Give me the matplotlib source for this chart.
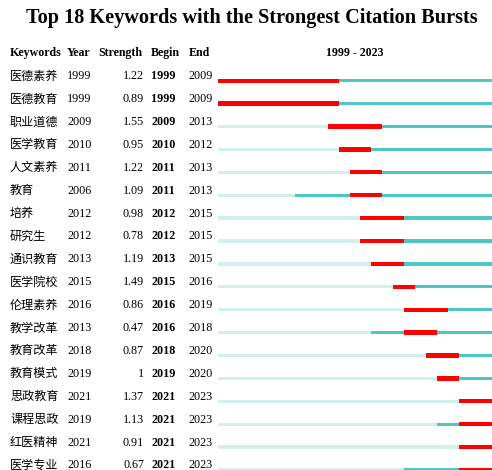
import matplotlib.pyplot as plt
import matplotlib.transforms as mtransforms

keywords = ['医德素养', '医德教育', '职业道德', '医学教育', '人文素养', '教育', '培养', '研究生',
            '通识教育', '医学院校', '伦理素养', '教学改革', '教育改革', '教育模式', '思政教育',
            '课程思政', '红医精神', '医学专业']
year = [1999, 1999, 2009, 2010, 2011, 2006, 2012, 2012, 2013, 2015, 2016, 2013, 2018, 2019,
        2021, 2019, 2021, 2016]
strength = ['1.22', '0.89', '1.55', '0.95', '1.22', '1.09', '0.98', '0.78', '1.19', '1.49',
            '0.86', '0.47', '0.87', '1', '1.37', '1.13', '0.91', '0.67']
begin = [1999, 1999, 2009, 2010, 2011, 2011, 2012, 2012, 2013, 2015, 2016, 2016, 2018, 2019,
         2021, 2021, 2021, 2021]
end = [2009, 2009, 2013, 2012, 2013, 2013, 2015, 2015, 2015, 2016, 2019, 2018, 2020, 2020,
       2023, 2023, 2023, 2023]
first_year, last_year = 1999, 2023

W, H = 492, 470
fig = plt.figure(figsize=(W / 100, H / 100), dpi=100)
fig.patch.set_facecolor('white')

row0, step = 80.7, 22.9
ax = fig.add_axes([218 / W, 0, (W - 218) / W, 1])
ax.set_xlim(first_year, last_year + 1)
ax.set_ylim((H - row0) / step, -row0 / step)
ax.axis('off')

rows = list(range(len(keywords)))
light = '#d4eeee'
cyan = '#4dc6c6'
red = '#ff0000'
ax.barh(rows, [y - first_year for y in year], left=first_year, height=0.14, color=light)
ax.barh(rows, [last_year + 1 - y for y in year], left=year, height=0.14, color=cyan)
ax.barh(rows, [e + 1 - b for b, e in zip(begin, end)], left=begin, height=0.19, color=red)

serif = ['Liberation Serif', 'Noto Sans CJK SC']
cjk = ['Noto Sans CJK SC', 'Liberation Serif']
tr = mtransforms.blended_transform_factory(fig.transFigure, ax.transData)
fs = 8.7
dy = -0.2  # text sits a bit above its bar

for i in rows:
    ty = i + dy
    ax.text(10 / W, ty, keywords[i], transform=tr, family=cjk, fontsize=fs, va='center')
    ax.text(67 / W, ty, str(year[i]), transform=tr, family=serif, fontsize=fs, va='center')
    ax.text(144 / W, ty, strength[i], transform=tr, family=serif, fontsize=fs, va='center', ha='right')
    ax.text(151 / W, ty, str(begin[i]), transform=tr, family=serif, fontsize=fs, va='center',
            fontweight='bold')
    ax.text(188 / W, ty, str(end[i]), transform=tr, family=serif, fontsize=fs, va='center')

hy = 1 - 53 / H
hdr = dict(family=serif, fontsize=8.6, fontweight='bold', va='center')
fig.text(10 / W, hy, 'Keywords', **hdr)
fig.text(67 / W, hy, 'Year', **hdr)
fig.text(98 / W, hy, 'Strength', **hdr)
fig.text(151 / W, hy, 'Begin', **hdr)
fig.text(189 / W, hy, 'End', **hdr)
fig.text(355 / W, hy, f'{first_year} - {last_year}', ha='center', **hdr)

fig.text(0.5 + 6 / W, 1 - 18 / H, 'Top 18 Keywords with the Strongest Citation Bursts', ha='center',
         va='center', family=serif, fontsize=14.6, fontweight='bold')

fig.savefig('out.png', dpi=100)
